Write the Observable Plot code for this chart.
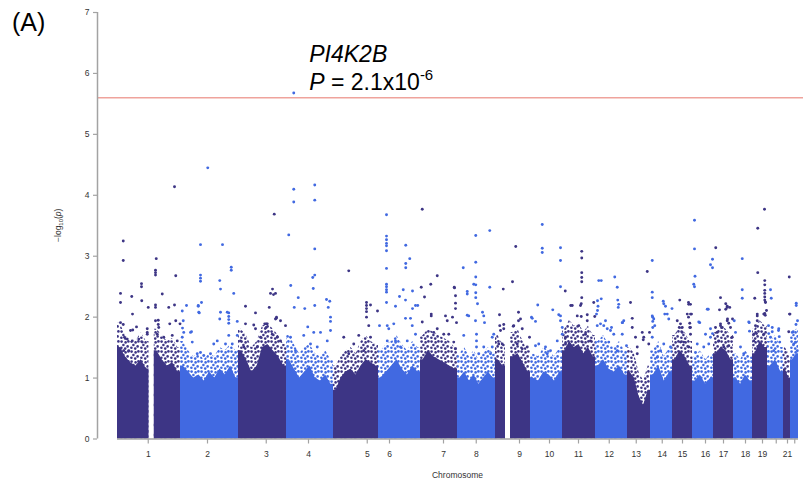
<!DOCTYPE html>
<html><head><meta charset="utf-8">
<script src="https://cdn.jsdelivr.net/npm/d3@7"></script>
<script src="https://cdn.jsdelivr.net/npm/@observablehq/plot@0.6"></script>
<style>body{margin:0;background:#fff} svg{display:block}</style>
</head><body><div id="chart"></div>
<script>
// ---- data ----
const chromosomes = ["1","2","3","4","5","6","7","8","9","10","11","12","13","14","15","16","17","18","19","20","21","22"];
const chrLength = [252,232,192,188,180,168,148,152,140,128,132,128,92,88,80,84,80,76,60,64,28,32];
const tickPos = [123,360,595,764,999,1088,1304,1435,1608,1728,1844,1967,2075,2179,2260,2352,2424,2512,2580,2635,2680,2709];
const tickLabels = ["1","2","3","4","5","6","7","8","9","10","11","12","13","14","15","16","17","18","19","","21",""];
const yTicks = [0,1,2,3,4,5,6,7];
// top of the solid SNP mass, per chromosome (bins across the chromosome; 0 = no SNPs)
const denseTop = [
  [1.5,1.35,1.25,1.2,1.3,1.15,0,1.45,1.3,1.2,1.25,1.1],
  [1.2,1.1,1.0,1.05,0.95,1.1,1.0,1.15,1.05,1.2,1.0],
  [1.45,1.3,1.1,1.2,1.5,1.55,1.45,1.35,1.2],
  [1.3,1.15,1.0,1.1,1.2,1.0,0.95,1.05,0.9],
  [0.8,1.0,1.1,1.15,1.05,1.2,1.3,1.25,1.2],
  [1.0,1.1,1.2,1.3,1.15,1.05,1.2,1.1],
  [1.3,1.45,1.35,1.3,1.25,1.2,1.15],
  [1.0,1.1,0.95,1.05,0.9,1.0,1.1,1.0],
  [1.3,1.2,0,1.35,1.4,1.25,1.1],
  [1.0,0.95,1.1,1.05,0.95,1.1],
  [1.45,1.6,1.5,1.55,1.4,1.5,1.35],
  [1.2,1.3,1.15,1.1,1.2,1.05],
  [1.1,1.0,0.7,0.55,0.8],
  [1.05,1.2,0.95,1.1],
  [1.3,1.45,1.35,1.2],
  [0.95,1.05,0.9,1.0],
  [1.4,1.5,1.45,1.3],
  [1.0,0.9,1.05,0.95],
  [1.4,1.6,1.5],
  [1.2,1.3,1.1],
  [1.15,1.0],
  [1.3,1.4]
];
// top of the looser cloud of SNPs above the solid mass (same bins)
const cloudTop = [
  [1.9,1.7,1.6,1.6,1.75,1.6,0,1.8,1.7,1.6,1.65,1.5],
  [1.6,1.45,1.35,1.4,1.3,1.4,1.35,1.5,1.45,1.55,1.45],
  [1.8,1.7,1.5,1.6,1.85,1.9,1.8,1.7,1.55],
  [1.7,1.55,1.4,1.5,1.55,1.4,1.35,1.45,1.3],
  [1.2,1.35,1.45,1.5,1.4,1.6,1.7,1.6,1.55],
  [1.45,1.55,1.6,1.7,1.55,1.45,1.6,1.5],
  [1.7,1.8,1.75,1.7,1.65,1.6,1.5],
  [1.4,1.5,1.35,1.45,1.3,1.4,1.5,1.4],
  [1.7,1.55,0,1.75,1.8,1.6,1.45],
  [1.4,1.35,1.5,1.45,1.35,1.5],
  [1.8,1.95,1.85,1.9,1.75,1.85,1.7],
  [1.6,1.7,1.55,1.5,1.6,1.45],
  [1.5,1.4,1.1,0.95,1.2],
  [1.45,1.6,1.35,1.5],
  [1.7,1.85,1.75,1.6],
  [1.35,1.45,1.3,1.4],
  [1.75,1.85,1.8,1.7],
  [1.4,1.3,1.45,1.35],
  [1.8,1.95,1.85],
  [1.6,1.7,1.5],
  [1.5,1.4],
  [1.7,1.8]
];
// individual SNPs above the cloud: [cumulative position, -log10(p)]
const snps = [
[705,5.68],[361,4.45],[228,4.14],[789,4.17],[705,4.10],[705,3.89],[789,3.92],[789,3.12],[789,2.69],[781,2.65],[783,2.47],[789,2.19],
[627,3.69],
[1076,3.68],[1076,3.33],[1076,3.27],[1076,3.21],[1076,3.17],[1076,3.09],[1076,2.80],[1076,2.54],[1076,2.50],[1076,2.45],[1076,2.41],[1076,2.24],
[1219,3.77],[1699,3.52],[1699,3.13],[1699,3.06],[1489,3.42],
[1433,3.34],[1433,2.90],[1433,2.66],[1425,2.54],[1433,2.53],[1433,2.40],[1433,2.32],[1440,2.22],
[2588,3.77],[2561,3.46],[2561,2.73],
[2589,2.60],[2589,2.53],[2589,2.44],[2589,2.39],[2589,2.33],[2589,2.28],[2591,2.25],[2589,2.06],[2591,2.03],
[2308,3.59],[2308,3.12],[2310,2.67],[2305,2.54],[2308,2.50],
[2393,3.14],[2380,2.95],[2372,2.86],[2380,2.81],
[2499,2.96],[2499,2.45],[2499,2.31],
[2139,2.93],[2139,2.41],[2139,2.32],[2119,2.75],
[23,3.25],[23,2.93],[332,3.19],[332,2.69],[332,2.64],[332,2.59],[420,3.19],
[155,2.96],[152,2.77],[152,2.73],[152,2.69],[233,2.68],[233,1.94],
[455,2.82],[455,2.77],[409,2.60],[412,2.46],[465,2.39],[96,2.55],[96,2.50],
[12,2.39],[12,2.24],[57,2.34],[97,2.27],[179,2.38],[60,2.05],[123,2.16],[152,2.20],[152,2.16],[205,2.16],[228,2.20],
[276,2.19],[259,2.10],[323,2.19],[323,2.18],[336,2.24],[327,2.07],
[445,2.07],[445,2.01],[445,1.96],[445,1.90],[409,1.97],[479,1.93],
[512,2.18],[552,2.07],[620,2.46],[612,2.39],[624,2.37],[607,2.16],[635,1.98],[599,1.89],
[12,1.91],[23,1.88],[76,1.84],[163,1.95],[163,1.88],[209,1.89],[260,1.82],[296,1.76],
[545,1.87],[552,1.81],[595,1.89],[119,1.81],[119,1.75],
[685,3.35],[693,2.52],[723,2.32],[707,2.16],[749,2.14],[632,2.39],
[836,2.29],[849,2.26],[843,2.16],[852,2.00],[852,1.93],[925,2.76],
[1153,3.18],[1169,2.96],[1153,2.88],[1153,2.81],
[1279,2.68],[1253,2.54],[1215,2.49],[1228,2.33],
[1143,2.45],[1180,2.43],[1128,2.34],[1152,2.28],[1201,2.19],[1180,2.14],[1112,2.18],
[996,2.24],[996,2.19],[996,2.14],[996,2.09],[996,2.00],[1012,2.20],[1040,2.10],
[1255,2.05],[1255,2.02],[1347,2.49],[1312,2.02],[636,2.00],
[1383,2.81],[1489,2.49],[1399,2.42],[1399,2.38],[1348,2.48],[1352,2.35],[1352,2.23],[1352,2.14],
[1593,3.16],[1580,2.58],[1543,2.46],
[1772,3.14],[1772,2.93],[1772,2.50],[1791,2.43],
[1857,3.08],[1857,2.97],[1857,2.73],[1857,2.65],[1857,2.58],[1857,2.32],[1855,2.22],[1855,2.01],
[1989,2.66],[1999,2.49],[1925,2.60],[1935,2.60],[1935,2.30],[1920,2.27],[1922,2.18],[1920,2.11],[2001,2.28],[2003,2.16],
[2052,2.24],[1681,2.20],[1741,2.12],[1813,2.19],[1765,2.04],
[1528,2.04],[1545,1.88],[1583,1.85],[1604,2.08],[1604,1.94],[1460,2.08],[1468,1.91],[1399,2.03],[1340,2.00],[1356,1.91],[1499,1.67],
[1656,2.00],[1672,1.93],[1879,2.04],[1879,1.94],[1909,2.01],[1952,1.94],[1976,1.83],[2019,1.91],
[2687,2.66],[2690,2.05],[2715,2.23],[2715,2.19],[2714,1.88],
[2249,2.28],[2284,2.24],[2292,2.21],[2296,2.05],[2284,2.00],
[2183,2.26],[2185,2.22],[2192,2.18],[2189,2.05],[2218,2.14],
[2363,2.13],[2412,2.32],[2433,2.22],[2439,2.18],[2433,2.13],[2449,2.16],[2408,2.12],
[2440,1.97],[2445,1.90],[2460,1.97],
[2549,2.31],[2559,2.05],[2615,2.31],[2612,2.45],
[2527,1.91],[2528,1.77],[2329,1.91],[2020,1.91],[2036,1.53],[2099,1.75],[2103,1.63],
[2141,2.00],[2141,1.93],[2149,1.86],[2141,1.83],
[2239,1.94],[2247,1.83],[2259,1.83],[2259,1.75],[2289,1.90],[2289,1.83],
[2372,1.81],[2380,1.73],[2412,1.89],[2419,1.83],
[2552,1.86],[2556,1.73],[2545,1.61],[2604,1.86],[2605,1.73],[2619,1.76],
[2644,1.78],[2647,1.68],[2649,1.59],[2685,1.76],[2703,1.76],
[52,1.78],[61,1.79],[28,1.67],[39,1.64],[59,1.61],[85,1.64],[99,1.59],[119,1.72],[12,1.48],[25,1.45],[45,1.45],
[152,1.94],[165,1.83],[159,1.72],[219,1.70],[185,1.67],[239,1.61],[250,1.89],
[263,1.94],[265,1.75],[259,1.67],[292,1.75],[325,2.08],[299,1.59],[332,1.42],
[412,2.08],[439,2.08],[399,1.61],[432,1.56],[445,1.70],[459,1.56],[479,1.70],[492,1.61],[505,1.51],[385,1.56],[372,1.40],[345,1.37],[319,1.40],
[512,1.89],[589,1.89],[595,1.83],[632,1.97],[652,1.94],[672,1.86],[619,1.72],[639,1.67],[652,1.61],[572,1.67],[559,1.51],
[761,1.84],[745,1.70],[785,1.75],[812,1.75],[852,1.78],[839,1.61],[799,1.51],[772,1.56],[692,1.67],[712,1.45],
[905,1.67],[945,1.56],[965,1.70],[1005,1.86],[1012,1.67],[1048,1.86],[985,1.45],[925,1.40],
[1079,1.86],[1085,1.81],[1105,1.89],[1152,1.98],[1172,1.98],[1179,1.86],[1192,2.19],[1192,1.72],[1159,1.61],[1132,1.51],[1112,1.61],[1079,1.61],
[1219,1.92],[1265,1.75],[1279,1.81],[1305,1.72],[1319,1.94],[1325,1.72],
[1345,1.59],[1352,1.48],[1385,1.70],[1405,2.02],[1432,1.94],[1436,1.72],[1436,1.61],[1436,1.51],[1465,2.02],[1465,1.51],[1445,1.40],[1492,1.40],[1505,1.72],[1499,1.51],
[1529,1.86],[1532,1.78],[1545,1.81],[1525,1.56],[1539,1.56],
[1585,1.86],[1612,1.97],[1619,1.81],[1599,1.56],[1619,1.48],[1639,1.51],[1648,1.67],
[1659,1.98],[1672,1.53],[1685,1.56],[1712,1.51],[1719,1.40],[1732,1.45],
[1772,2.02],[1772,1.94],[1779,1.83],[1779,1.72],[1792,1.67],[1792,1.56],[1759,1.61],
[1819,2.19],[1839,2.02],[1852,2.19],[1845,1.86],[1859,1.59],[1872,1.72],[1892,1.61],
[1916,2.05],[1919,1.86],[1905,2.24],[1932,1.89],[1945,1.86],[1959,1.81],[1972,1.78],[1965,1.59],[1985,1.72],[1999,1.45],[2005,2.21],[2025,1.94],[2019,1.72],
[2059,1.98],[2059,1.83],[2072,1.67],[2105,1.67],[2079,1.51],[2079,1.40],[2128,1.75],[2139,1.67],[2125,1.56],
[2139,2.02],[2145,1.97],[2199,2.05],[2205,1.97],[2212,1.51],[2185,1.56],[2172,1.45],[2159,1.34],
[2252,1.89],[2279,2.05],[2285,2.21],[2292,2.05],[2292,1.83],[2265,1.59],[2285,1.51],[2292,1.72],[2252,1.59],
[2312,1.42],[2319,1.56],[2325,1.92],[2359,2.13],[2352,1.72],[2372,1.67],[2365,1.56],[2345,1.51],
[2392,1.83],[2399,1.75],[2405,1.61],[2412,1.86],[2439,1.94],[2439,2.16],[2452,1.83],[2459,1.67],[2445,1.53],[2467,1.94],[2472,1.75],[2425,1.51],
[2505,1.40],[2492,1.51],[2525,1.92],[2545,1.72],[2559,1.94],[2572,1.56],[2585,1.72],
[2592,2.24],[2596,2.11],[2585,2.05],[2559,2.02],[2612,1.67],[2619,1.83],[2625,1.45],[2645,1.81],
[2688,2.05],[2699,1.75],[2705,1.56],[2712,1.59],[2720,1.94],[2719,1.45]
];
const threshold = 5.6;
const topHit = {gene: "PI4K2B", pos: 705, logp: 5.68, mantissa: "2.1x10", exponent: "-6"};

// ---- derived structure ----
const chrStart = Array.from(d3.cumsum([0, ...chrLength.slice(0, -1)]));
const total = d3.sum(chrLength);
const dark = "#3d3585", blue = "#4169e1", grey = "#a3a3a3";
const chrIndex = pos => d3.bisectRight(chrStart, pos) - 1;
const colorOf = pos => chrIndex(pos) % 2 ? blue : dark;

// outline points of each chromosome's SNP mass (bin centres, edges at chromosome ends and gaps)
function profile(tops) {
  const pts = [];
  tops.forEach((arr, i) => {
    const w = chrLength[i] / arr.length, s = chrStart[i], odd = i % 2 === 1;
    arr.forEach((t, j) => {
      if (!(t > 0)) { pts.push({x: s + j * w, y1: 0, y2: NaN, z: i, odd}); return; }
      if (j === 0 || !(arr[j - 1] > 0)) pts.push({x: s + j * w, y1: 0, y2: t, z: i, odd});
      pts.push({x: s + (j + 0.5) * w, y1: 0, y2: t, z: i, odd});
      if (j === arr.length - 1 || !(arr[j + 1] > 0)) pts.push({x: s + (j + 1) * w, y1: 0, y2: t, z: i, odd});
    });
  });
  return pts;
}
const solid = profile(denseTop), cloud = profile(cloudTop);
const labelByPos = new Map(tickPos.map((p, i) => [p, tickLabels[i]]));
const xDomain = [-80, total + 20];

const plot = Plot.plot({
  width: 803, height: 485,
  marginLeft: 97, marginRight: 0, marginTop: 12, marginBottom: 46.5,
  x: {domain: xDomain},
  y: {domain: [0, 7]},
  style: {fontFamily: "'Liberation Sans', Arial, Helvetica, sans-serif", background: "#fff"},
  marks: [
    Plot.area(cloud.filter(d => !d.odd), {x1: "x", y1: "y1", y2: "y2", z: "z", fill: "url(#speckDark)", curve: "linear"}),
    Plot.area(cloud.filter(d => d.odd), {x1: "x", y1: "y1", y2: "y2", z: "z", fill: "url(#speckBlue)", curve: "linear"}),
    Plot.area(solid, {x1: "x", y1: "y1", y2: "y2", z: "z", fill: d => d.odd ? blue : dark, curve: "linear"}),
    Plot.dot(snps, {x: d => d[0], y: d => d[1], r: 1.45, fill: d => colorOf(d[0]), stroke: null}),
    Plot.ruleY([threshold], {stroke: "#efa39c", strokeWidth: 1.5}),
    Plot.ruleX([xDomain[0]], {stroke: grey, strokeWidth: 1.5}),
    Plot.ruleY([{y: 0, x1: 0, x2: total}], {y: "y", x1: "x1", x2: "x2", stroke: grey, strokeWidth: 1.5}),
    Plot.axisY({ticks: yTicks, tickFormat: d3.format("d"), tickSize: 4, tickPadding: 4, fontSize: 8.5, stroke: grey, strokeWidth: 1.2, fill: "#333", label: null}),
    Plot.axisX({ticks: tickPos, tickFormat: d => labelByPos.get(d), tickSize: 5, tickPadding: 7, fontSize: 8.5, stroke: grey, strokeWidth: 1.2, fill: "#333", label: null})
  ]
});

const xs = plot.scale("x"), ys = plot.scale("y");
const svg = d3.select(plot);
const font = "'Liberation Sans', Arial, Helvetica, sans-serif";

// speckle textures for the loose part of the SNP cloud
const defs = svg.insert("defs", ":first-child");
const speck = [[1.6,1.6],[5.6,2.4],[3.4,5.0],[7.6,6.4],[1.4,7.8],[5.2,8.6],[8.4,1.4]];
[["speckDark", dark], ["speckBlue", blue]].forEach(([id, c]) => {
  const p = defs.append("pattern").attr("id", id).attr("patternUnits", "userSpaceOnUse").attr("width", 10).attr("height", 10);
  speck.forEach(([cx, cy]) => p.append("circle").attr("cx", cx).attr("cy", cy).attr("r", 1.3).attr("fill", c));
});

// panel letter
svg.append("text").attr("x", 12).attr("y", 31).attr("text-anchor", "start").attr("font-size", 25)
  .attr("font-family", font).attr("fill", "#000").text("(A)");

// top hit annotation
const ax = xs.apply(topHit.pos) + 16, ay = ys.apply(topHit.logp);
svg.append("text").attr("x", ax).attr("y", ay - 30.6).attr("text-anchor", "start").attr("font-size", 23)
  .attr("font-family", font).attr("font-style", "italic").attr("fill", "#000").text(topHit.gene);
const t2 = svg.append("text").attr("x", ax).attr("y", ay - 2.3).attr("text-anchor", "start").attr("font-size", 23)
  .attr("font-family", font).attr("fill", "#000");
t2.append("tspan").attr("font-style", "italic").text("P");
t2.append("tspan").text(" = " + topHit.mantissa);
t2.append("tspan").attr("font-size", 15).attr("dy", -10).text(topHit.exponent);

// y-axis label
const yl = svg.append("text").attr("transform", `translate(61,${ys.apply(3.5)}) rotate(-90)`)
  .attr("text-anchor", "middle").attr("font-size", 8.5).attr("font-family", font).attr("fill", "#333");
yl.append("tspan").text("\u2212log");
yl.append("tspan").attr("font-size", 6).attr("dy", 2).text("10");
yl.append("tspan").attr("dy", -2).text("(");
yl.append("tspan").attr("font-style", "italic").text("p");
yl.append("tspan").text(")");

// x-axis label
svg.append("text").attr("x", xs.apply(total / 2)).attr("y", 478).attr("text-anchor", "middle")
  .attr("font-size", 8.5).attr("font-family", font).attr("fill", "#333").text("Chromosome");

document.getElementById("chart").append(plot);
</script>
</body></html>
